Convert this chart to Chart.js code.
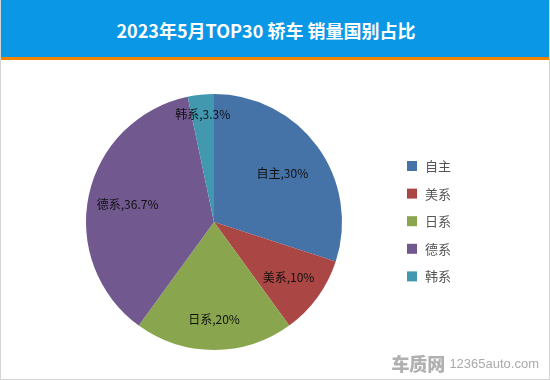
<!DOCTYPE html>
<html><head><meta charset="utf-8">
<script src="https://cdn.jsdelivr.net/npm/chart.js@4/dist/chart.umd.min.js"></script>
<style>
html,body{margin:0;padding:0;background:#fff;}
#wrap{position:relative;width:548px;height:379px;border-left:1px solid #d4d4d4;border-right:1px solid #d4d4d4;border-bottom:1px solid #d4d4d4;overflow:hidden;}
#hdr{position:absolute;left:0;top:0;width:548px;height:57px;background:#0a97e6;border-bottom:3px solid #f08300;}
#ttl{position:absolute;left:0;width:530px;top:15px;text-align:center;color:#fff;font:bold 18px "Noto Sans CJK SC","Noto Sans",sans-serif;line-height:30px;}
#cv{position:absolute;left:0;top:60px;}
#wm{position:absolute;right:10px;bottom:3px;color:#b8b8b8;white-space:nowrap;}
#wm b{font:900 18px "Noto Sans CJK SC",sans-serif;letter-spacing:0px;color:#b0b0b0;vertical-align:middle;}
#wm span{font:13px "Liberation Sans",Arial,sans-serif;vertical-align:middle;color:#aaa;}
</style></head>
<body>
<div id="wrap">
<div id="hdr"><div id="ttl">2023年5月TOP30 轿车 销量国别占比</div></div>
<canvas id="cv" width="548" height="320"></canvas>
<div id="wm"><b>车质网</b> <span>12365auto.com</span></div>
</div>
<script>
const categories = ['自主','美系','日系','德系','韩系'];
const values = [30, 10, 20, 36.7, 3.3];
const valueLabels = ['30%','10%','20%','36.7%','3.3%'];
const colors = ['#4572a7','#aa4643','#89a54e','#71588f','#4198af'];

const labelPlugin = {
  id:'sliceLabels',
  afterDatasetsDraw(chart){
    const ctx = chart.ctx;
    const meta = chart.getDatasetMeta(0);
    const fr = [0.66,0.72,0.75,0.69,0.85];
    ctx.save();
    ctx.font = '12px "Noto Sans CJK SC","Noto Sans",sans-serif';
    ctx.fillStyle = '#111';
    ctx.textAlign='center'; ctx.textBaseline='middle';
    meta.data.forEach((arc,i)=>{
      const p = arc.getProps(['x','y','startAngle','endAngle','outerRadius'],true);
      const a = (p.startAngle+p.endAngle)/2;
      const r = p.outerRadius*fr[i];
      ctx.fillText(categories[i]+','+valueLabels[i], p.x+Math.cos(a)*r, p.y+Math.sin(a)*r+1);
    });
    ctx.restore();
  }
};
const legendPlugin = {
  id:'sideLegend',
  afterDraw(chart){
    const ctx = chart.ctx;
    ctx.save();
    ctx.font = '13px "Noto Sans CJK SC","Noto Sans",sans-serif';
    ctx.textBaseline='middle'; ctx.textAlign='left';
    categories.forEach((c,i)=>{
      const y = 106 + i*27.6;
      ctx.fillStyle = colors[i];
      ctx.fillRect(406, y-5, 10, 10);
      ctx.fillStyle = '#555';
      ctx.fillText(c, 424, y);
    });
    ctx.restore();
  }
};

new Chart(document.getElementById('cv'),{
  type:'pie',
  data:{labels:categories,datasets:[{data:values,backgroundColor:colors,borderWidth:0}]},
  options:{
    responsive:false,animation:false,
    layout:{padding:{left:85,right:207,top:34,bottom:30}},
    plugins:{legend:{display:false},tooltip:{enabled:false}}
  },
  plugins:[labelPlugin,legendPlugin]
});
</script>
</body></html>
